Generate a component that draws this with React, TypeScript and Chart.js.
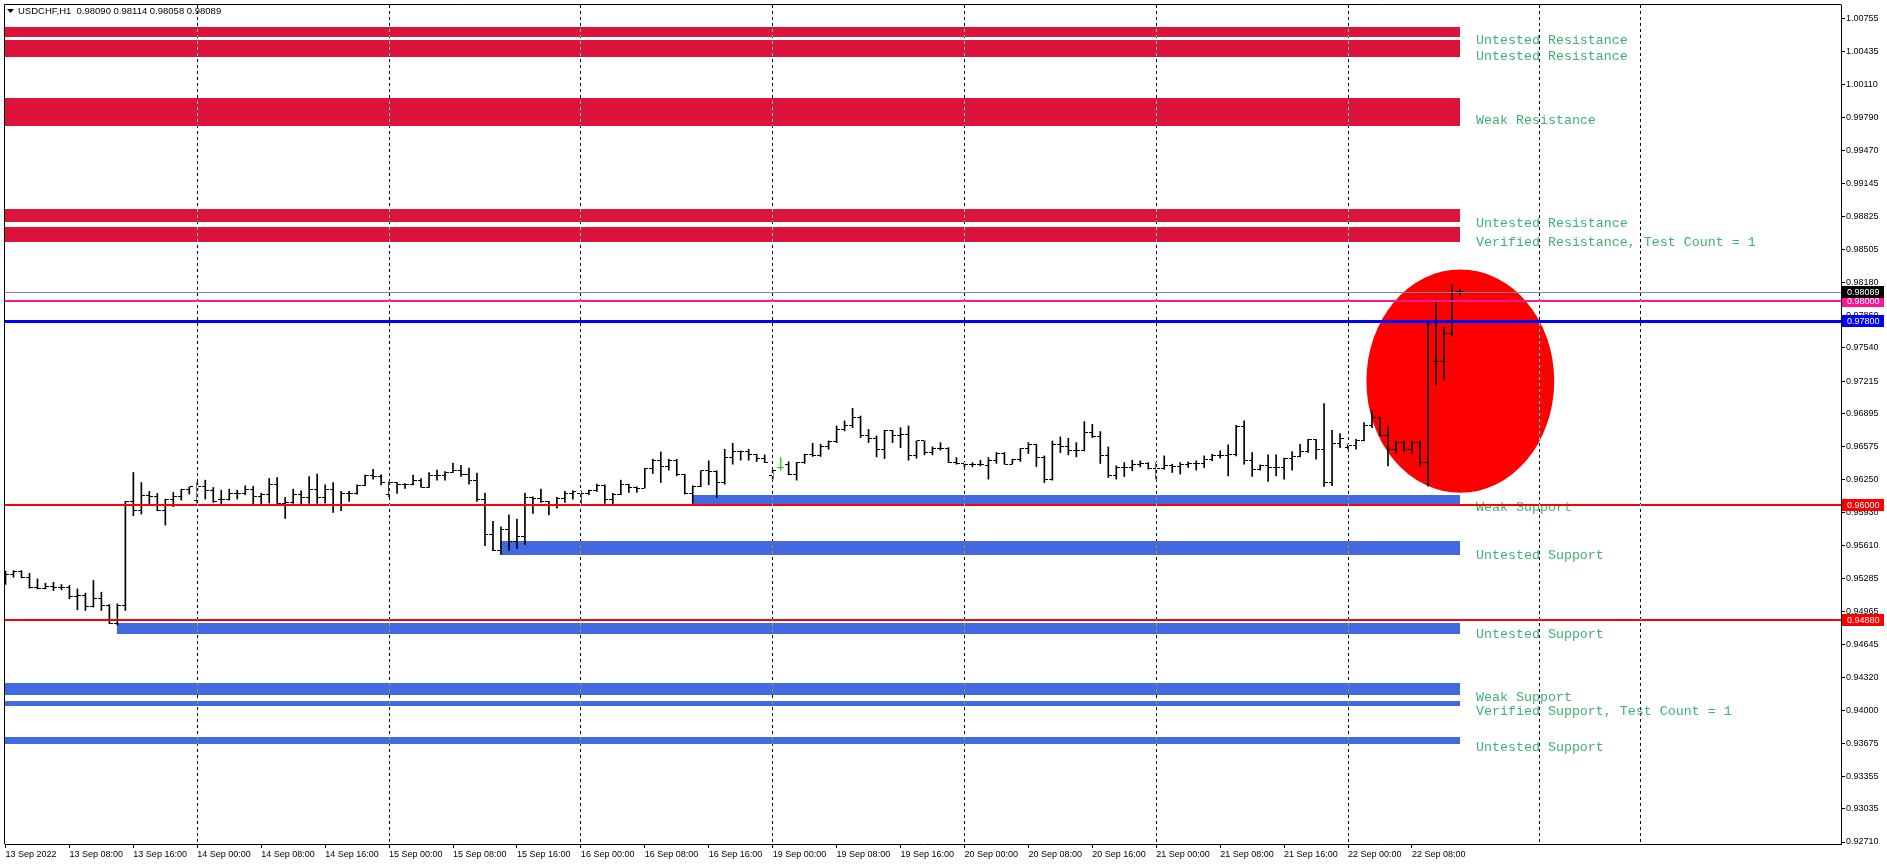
import React, { useEffect, useRef } from "react";
import { Chart, registerables } from "chart.js";

Chart.register(...registerables);

const titleText = "USDCHF,H1  0.98090 0.98114 0.98058 0.98089";

const xTickLabels = [
  "13 Sep 2022", "13 Sep 08:00", "13 Sep 16:00", "14 Sep 00:00", "14 Sep 08:00", "14 Sep 16:00",
  "15 Sep 00:00", "15 Sep 08:00", "15 Sep 16:00", "16 Sep 00:00", "16 Sep 08:00", "16 Sep 16:00",
  "19 Sep 00:00", "19 Sep 08:00", "19 Sep 16:00", "20 Sep 00:00", "20 Sep 08:00", "20 Sep 16:00",
  "21 Sep 00:00", "21 Sep 08:00", "21 Sep 16:00", "22 Sep 00:00", "22 Sep 08:00",
];
const barsPerXTick = 8;

const yTickValues = [
  1.00755, 1.00435, 1.0011, 0.9979, 0.9947, 0.99145, 0.98825, 0.98505, 0.9818, 0.9786,
  0.9754, 0.97215, 0.96895, 0.96575, 0.9625, 0.9593, 0.9561, 0.95285, 0.94965, 0.94645,
  0.9432, 0.94, 0.93675, 0.93355, 0.93035, 0.9271,
];

const barOpen = [
  0.95321, 0.95321, 0.95357, 0.95292, 0.95201, 0.95191, 0.95207, 0.95201, 0.95201, 0.9511,
  0.95119, 0.95012, 0.95087, 0.95022, 0.9485, 0.95022, 0.96039, 0.95955, 0.96094, 0.96088,
  0.95948, 0.96062, 0.96085, 0.96153, 0.96052, 0.96182, 0.96149, 0.96062, 0.96062, 0.9612,
  0.9612, 0.96159, 0.96088, 0.96111, 0.96201, 0.96023, 0.96029, 0.96111, 0.96078, 0.96153,
  0.96078, 0.96159, 0.96013, 0.9612, 0.9612, 0.96192, 0.96296, 0.96283, 0.96111, 0.96224,
  0.96201, 0.96201, 0.9624, 0.96175, 0.96289, 0.96289, 0.96322, 0.96338, 0.96299, 0.96247,
  0.96062, 0.95714, 0.95558, 0.9576, 0.9565, 0.957, 0.96078, 0.96072, 0.96039, 0.96013,
  0.96072, 0.96117, 0.96117, 0.96117, 0.96143, 0.96192, 0.96062, 0.96111, 0.96201, 0.96175,
  0.96169, 0.96361, 0.96436, 0.9638, 0.96436, 0.96306, 0.96117, 0.96185, 0.96338, 0.96332,
  0.96224, 0.96468, 0.96527, 0.96527, 0.96494, 0.96462, 0.96289, 0.9637, 0.96403, 0.96306,
  0.96419, 0.96494, 0.96484, 0.96575, 0.96624, 0.96744, 0.96783, 0.96864, 0.96679, 0.96657,
  0.96549, 0.96728, 0.96679, 0.96696, 0.96484, 0.9663, 0.96517, 0.96559, 0.96559, 0.96419,
  0.9641, 0.96396, 0.96403, 0.96387, 0.96436, 0.96507, 0.96403, 0.96445, 0.96556, 0.96592,
  0.96468, 0.96257, 0.96598, 0.96572, 0.9654, 0.9654, 0.96712, 0.9667, 0.96484, 0.96289,
  0.9637, 0.9637, 0.96403, 0.9641, 0.96364, 0.96364, 0.96393, 0.96377, 0.96396, 0.9641,
  0.9641, 0.96452, 0.96491, 0.96491, 0.96494, 0.96767, 0.96436, 0.96354, 0.96387, 0.9637,
  0.9637, 0.96458, 0.96474, 0.96527, 0.9664, 0.96543, 0.96224, 0.96608, 0.96565, 0.96582,
  0.96637, 0.96777, 0.96864, 0.96679, 0.96549, 0.96614, 0.96549, 0.96614, 0.96419, 0.97411,
  0.97411, 0.97683, 0.9809,
];

const barHigh = [
  0.95357, 0.95363, 0.95363, 0.95337, 0.95282, 0.9524, 0.95249, 0.95227, 0.95217, 0.95184,
  0.95142, 0.95266, 0.95152, 0.95032, 0.95038, 0.96039, 0.96322, 0.96224, 0.96137, 0.96117,
  0.96062, 0.96127, 0.96159, 0.96182, 0.96224, 0.96247, 0.96175, 0.96149, 0.96159, 0.96149,
  0.96192, 0.96188, 0.9612, 0.96263, 0.96273, 0.96078, 0.96159, 0.96143, 0.96283, 0.96306,
  0.96201, 0.96224, 0.96137, 0.96137, 0.96201, 0.96296, 0.96354, 0.96299, 0.96231, 0.96224,
  0.96214, 0.96296, 0.96263, 0.96322, 0.96345, 0.96332, 0.96413, 0.96393, 0.96364, 0.96315,
  0.9612, 0.95844, 0.9579, 0.95909, 0.95867, 0.9612, 0.96085, 0.96159, 0.96039, 0.96078,
  0.96137, 0.96143, 0.96143, 0.96149, 0.96208, 0.96201, 0.96117, 0.96247, 0.96208, 0.96182,
  0.96361, 0.96452, 0.96523, 0.96452, 0.96452, 0.96306, 0.96192, 0.96338, 0.96436, 0.96338,
  0.96549, 0.96608, 0.96533, 0.96549, 0.96501, 0.96494, 0.96345, 0.96468, 0.96426, 0.96419,
  0.96501, 0.96608, 0.96598, 0.9663, 0.96777, 0.96826, 0.96949, 0.96874, 0.96744, 0.96679,
  0.96735, 0.96735, 0.9676, 0.96777, 0.9663, 0.9663, 0.96572, 0.96614, 0.96565, 0.96468,
  0.96419, 0.96419, 0.96442, 0.96468, 0.96517, 0.96517, 0.96452, 0.96559, 0.96614, 0.96598,
  0.96484, 0.9663, 0.9667, 0.96657, 0.96614, 0.96819, 0.96793, 0.96722, 0.96572, 0.96387,
  0.96419, 0.96442, 0.96436, 0.96419, 0.96419, 0.96484, 0.96403, 0.96419, 0.96426, 0.96436,
  0.96484, 0.96501, 0.96533, 0.96592, 0.96783, 0.96826, 0.96517, 0.96396, 0.96494, 0.96494,
  0.96462, 0.96527, 0.96598, 0.96647, 0.96647, 0.96995, 0.96735, 0.96702, 0.96598, 0.96647,
  0.96809, 0.9693, 0.96864, 0.96777, 0.9663, 0.9663, 0.9663, 0.9663, 0.97791, 0.97989,
  0.97742, 0.98158, 0.98114,
];

const barLow = [
  0.95227, 0.95298, 0.95292, 0.95191, 0.95184, 0.95184, 0.95168, 0.95175, 0.95087, 0.9498,
  0.94973, 0.95006, 0.94973, 0.94843, 0.9483, 0.94973, 0.95899, 0.95916, 0.96013, 0.95948,
  0.95808, 0.95987, 0.96052, 0.96111, 0.9602, 0.96062, 0.96029, 0.96007, 0.96052, 0.96062,
  0.96104, 0.96007, 0.96013, 0.96023, 0.96013, 0.95873, 0.9602, 0.96007, 0.9602, 0.9602,
  0.96023, 0.95932, 0.95948, 0.96039, 0.96111, 0.96192, 0.96257, 0.96201, 0.96085, 0.96117,
  0.96166, 0.96201, 0.96175, 0.96175, 0.96247, 0.96247, 0.96322, 0.96283, 0.96208, 0.96039,
  0.95607, 0.95558, 0.9552, 0.9556, 0.9558, 0.9562, 0.95922, 0.96029, 0.95906, 0.95974,
  0.96029, 0.96062, 0.96013, 0.96104, 0.96137, 0.9602, 0.96007, 0.96104, 0.96127, 0.96127,
  0.96169, 0.96312, 0.96224, 0.96345, 0.96289, 0.96111, 0.9602, 0.96182, 0.96201, 0.96078,
  0.96208, 0.96403, 0.96442, 0.96442, 0.96429, 0.96419, 0.96257, 0.96345, 0.96299, 0.96247,
  0.9641, 0.96478, 0.96478, 0.96549, 0.96614, 0.96728, 0.9676, 0.96663, 0.96614, 0.96474,
  0.96458, 0.96614, 0.96565, 0.96442, 0.96462, 0.96494, 0.96494, 0.9654, 0.96419, 0.96403,
  0.96377, 0.96377, 0.96387, 0.96257, 0.9641, 0.96403, 0.96403, 0.96429, 0.96507, 0.9638,
  0.96224, 0.96247, 0.96517, 0.96494, 0.96474, 0.96533, 0.96663, 0.9641, 0.96273, 0.96257,
  0.96283, 0.96338, 0.96377, 0.96354, 0.96257, 0.96354, 0.96322, 0.96306, 0.9637, 0.96345,
  0.9637, 0.96436, 0.96462, 0.96289, 0.96484, 0.96403, 0.96283, 0.96345, 0.96234, 0.96289,
  0.96257, 0.96345, 0.96474, 0.96517, 0.96452, 0.96185, 0.96192, 0.96565, 0.96549, 0.96549,
  0.9663, 0.9676, 0.96679, 0.96387, 0.96507, 0.96527, 0.96507, 0.9638, 0.96188, 0.97173,
  0.97232, 0.97654, 0.98058,
];

const barClose = [
  0.95321, 0.95357, 0.95292, 0.95201, 0.95191, 0.95207, 0.95201, 0.95201, 0.9511, 0.95119,
  0.95012, 0.95087, 0.95022, 0.9485, 0.95022, 0.96039, 0.95955, 0.96094, 0.96088, 0.95948,
  0.96062, 0.96085, 0.96153, 0.96182, 0.96182, 0.96149, 0.96039, 0.96062, 0.9612, 0.9612,
  0.96159, 0.96088, 0.96104, 0.96201, 0.96023, 0.96029, 0.96111, 0.96078, 0.96153, 0.96078,
  0.96159, 0.96013, 0.9612, 0.9612, 0.96192, 0.96296, 0.96283, 0.96224, 0.96224, 0.96201,
  0.96201, 0.9624, 0.96175, 0.96289, 0.96289, 0.96322, 0.96338, 0.96299, 0.96247, 0.96062,
  0.95714, 0.95558, 0.9576, 0.9565, 0.957, 0.96078, 0.96072, 0.96039, 0.96013, 0.96072,
  0.96117, 0.96137, 0.96117, 0.96143, 0.96192, 0.96062, 0.96111, 0.96201, 0.96175, 0.96169,
  0.96361, 0.96436, 0.9638, 0.96436, 0.96306, 0.96117, 0.96185, 0.96338, 0.96332, 0.96224,
  0.96468, 0.96527, 0.96527, 0.96494, 0.96462, 0.96419, 0.96338, 0.9637, 0.96306, 0.96419,
  0.96494, 0.96484, 0.96575, 0.96624, 0.96744, 0.96783, 0.96864, 0.96679, 0.96657, 0.96549,
  0.96728, 0.96679, 0.96696, 0.96484, 0.9663, 0.96517, 0.96559, 0.96559, 0.96419, 0.9641,
  0.96396, 0.96403, 0.96396, 0.96436, 0.96507, 0.96403, 0.96445, 0.96556, 0.96592, 0.96468,
  0.96257, 0.96598, 0.96572, 0.9654, 0.9654, 0.96712, 0.9667, 0.96484, 0.96289, 0.9637,
  0.9637, 0.96403, 0.9641, 0.96364, 0.96364, 0.96393, 0.96377, 0.96396, 0.9641, 0.9641,
  0.96452, 0.96491, 0.96491, 0.96494, 0.96767, 0.96436, 0.96354, 0.96387, 0.9637, 0.9637,
  0.96458, 0.96474, 0.96527, 0.9664, 0.96543, 0.96224, 0.96608, 0.96657, 0.96582, 0.96637,
  0.96777, 0.96864, 0.96679, 0.96549, 0.96614, 0.96549, 0.96614, 0.96419, 0.97768, 0.97411,
  0.97683, 0.98083, 0.98089,
];

const highlightedBar = 97;

const separatorBars = [24, 48, 72, 96, 120, 144, 168, 192, 204.6];

const resistanceTop = [1.00677, 1.00553, 0.99985, 0.98902, 0.98717];
const resistanceBottom = [1.00577, 1.00382, 0.99705, 0.98766, 0.98574];
const supportStartBar = [86, 62, 14, -10, -10, -10];
const supportTop = [0.96104, 0.95655, 0.94855, 0.94267, 0.94091, 0.93739];
const supportBottom = [0.96003, 0.95514, 0.94748, 0.94149, 0.94044, 0.93669];
const zoneEndBar = 182;

const zoneLabelText = [
  "Untested Resistance", "Untested Resistance", "Weak Resistance", "Untested Resistance",
  "Verified Resistance, Test Count = 1", "Weak Support", "Untested Support", "Untested Support",
  "Weak Support", "Verified Support, Test Count = 1", "Untested Support",
];
const zoneLabelPrice = [
  1.0054, 1.00384, 0.9976, 0.98753, 0.98571, 0.95981, 0.95511, 0.94738, 0.94126, 0.93987, 0.93636,
];
const zoneLabelBar = 184;

const levelPrices = [0.9488, 0.96, 0.978, 0.98, 0.98089];

const circleLeftBar = 170.3;
const circleRightBar = 193.8;
const circleTopPrice = 0.98307;
const circleBottomPrice = 0.96123;

// ---- styles ----
const levelLineColors = ["#FF0000", "#FF0000", "#0000FF", "#FF1493", "#778899"];
const levelLabelColors = ["#FF0000", "#FF0000", "#0000FF", "#FF1493", "#000000"];
const levelLineWidths = [2, 2, 3, 2, 1];
const resistanceColor = "#DC143C";
const supportColor = "#4169E1";
const labelColor = "#3CB371";
const axisFont = "Liberation Sans";

function tickImage(side: "left" | "right", color: string): HTMLCanvasElement {
  const c = document.createElement("canvas");
  c.width = 7;
  c.height = 1;
  const g = c.getContext("2d")!;
  g.fillStyle = color;
  if (side === "left") g.fillRect(0, 0, 3, 1);
  else g.fillRect(4, 0, 3, 1);
  return c;
}

export default function App() {
  const canvasRef = useRef<HTMLCanvasElement | null>(null);

  useEffect(() => {
    document.body.style.margin = "0";
    document.body.style.overflow = "hidden";
    const canvas = canvasRef.current;
    if (!canvas) return;

    const barColors = barOpen.map((_, i) => (i === highlightedBar ? "#32CD32" : "#000000"));
    const openImgBlack = tickImage("left", "#000000");
    const closeImgBlack = tickImage("right", "#000000");
    const openImgGreen = tickImage("left", "#32CD32");
    const closeImgGreen = tickImage("right", "#32CD32");

    const overlay = {
      id: "mt4overlay",
      beforeDraw(chart: any) {
        const { ctx, width, height } = chart;
        ctx.save();
        ctx.fillStyle = "#FFFFFF";
        ctx.fillRect(0, 0, width, height);
        ctx.restore();
      },
      beforeDatasetsDraw(chart: any) {
        const { ctx, chartArea: a, scales } = chart;
        const xs = scales.x;
        const ys = scales.y;
        ctx.save();
        ctx.beginPath();
        ctx.rect(a.left, a.top, a.right - a.left, a.bottom - a.top);
        ctx.clip();
        const xEnd = Math.round(xs.getPixelForValue(zoneEndBar));
        ctx.fillStyle = resistanceColor;
        resistanceTop.forEach((t, i) => {
          const y1 = Math.round(ys.getPixelForValue(t));
          const y2 = Math.round(ys.getPixelForValue(resistanceBottom[i]));
          ctx.fillRect(a.left, y1, xEnd - a.left, y2 - y1);
        });
        ctx.fillStyle = supportColor;
        supportTop.forEach((t, i) => {
          const x1 = Math.max(a.left, Math.round(xs.getPixelForValue(supportStartBar[i])));
          const y1 = Math.round(ys.getPixelForValue(t));
          const y2 = Math.round(ys.getPixelForValue(supportBottom[i]));
          ctx.fillRect(x1, y1, xEnd - x1, y2 - y1);
        });
        const cxl = xs.getPixelForValue(circleLeftBar);
        const cxr = xs.getPixelForValue(circleRightBar);
        const cyt = ys.getPixelForValue(circleTopPrice);
        const cyb = ys.getPixelForValue(circleBottomPrice);
        ctx.fillStyle = "#FF0000";
        ctx.beginPath();
        ctx.ellipse((cxl + cxr) / 2, (cyt + cyb) / 2, (cxr - cxl) / 2, (cyb - cyt) / 2, 0, 0, Math.PI * 2);
        ctx.fill();
        ctx.restore();
        ctx.imageSmoothingEnabled = false;
      },
      afterDatasetsDraw(chart: any) {
        const { ctx, chartArea: a, scales } = chart;
        const xs = scales.x;
        const ys = scales.y;
        ctx.save();
        ctx.beginPath();
        ctx.rect(a.left, a.top, a.right - a.left, a.bottom - a.top);
        ctx.clip();
        // zone labels
        ctx.font = '13.33px "Liberation Mono", "DejaVu Sans Mono", monospace';
        ctx.fillStyle = labelColor;
        ctx.textBaseline = "middle";
        ctx.textAlign = "left";
        const lx = xs.getPixelForValue(zoneLabelBar);
        zoneLabelText.forEach((t, i) => {
          ctx.fillText(t, lx, ys.getPixelForValue(zoneLabelPrice[i]));
        });
        // horizontal levels
        levelPrices.forEach((p, i) => {
          const w = levelLineWidths[i];
          let y = Math.round(ys.getPixelForValue(p));
          if (w % 2 === 1) y += 0.5;
          ctx.strokeStyle = levelLineColors[i];
          ctx.lineWidth = w;
          ctx.beginPath();
          ctx.moveTo(a.left, y);
          ctx.lineTo(a.right, y);
          ctx.stroke();
        });
        // period separators
        ctx.globalCompositeOperation = "difference";
        ctx.strokeStyle = "#FFFFFF";
        ctx.lineWidth = 1;
        ctx.setLineDash([3, 3]);
        separatorBars.forEach((b) => {
          const x = Math.floor(xs.getPixelForValue(b)) + 0.5;
          ctx.beginPath();
          ctx.moveTo(x, a.top);
          ctx.lineTo(x, a.bottom);
          ctx.stroke();
        });
        ctx.restore();

        // frame (left, top)
        ctx.save();
        ctx.strokeStyle = "#000000";
        ctx.lineWidth = 1;
        ctx.beginPath();
        ctx.moveTo(a.left - 0.5, a.bottom);
        ctx.lineTo(a.left - 0.5, a.top - 0.5);
        ctx.lineTo(a.right + 0.5, a.top - 0.5);
        ctx.stroke();

        // price labels on axis
        ctx.font = `9px "${axisFont}"`;
        ctx.textBaseline = "middle";
        ctx.textAlign = "left";
        levelPrices.forEach((p, i) => {
          const y = Math.round(ys.getPixelForValue(p));
          ctx.fillStyle = levelLabelColors[i];
          ctx.fillRect(a.right + 1, y - 6, 42, 12);
          ctx.fillStyle = "#FFFFFF";
          ctx.fillText(p.toFixed(5), a.right + 6, y + 0.5);
        });

        // title
        ctx.fillStyle = "#000000";
        ctx.beginPath();
        ctx.moveTo(7, 9);
        ctx.lineTo(14, 9);
        ctx.lineTo(10.5, 13);
        ctx.closePath();
        ctx.fill();
        ctx.font = `9.5px "${axisFont}"`;
        ctx.fillText(titleText, 18, 11);
        ctx.restore();
      },
    };

    const chart = new Chart(canvas, {
      type: "bar",
      data: {
        datasets: [
          {
            type: "scatter",
            data: barOpen.map((v, i) => ({ x: i, y: v })),
            pointStyle: barOpen.map((_, i) => (i === highlightedBar ? openImgGreen : openImgBlack)) as any,
            pointRadius: 3,
            clip: 0,
          } as any,
          {
            type: "scatter",
            data: barClose.map((v, i) => ({ x: i, y: v })),
            pointStyle: barClose.map((_, i) => (i === highlightedBar ? closeImgGreen : closeImgBlack)) as any,
            pointRadius: 3,
            clip: 0,
          } as any,
          {
            type: "bar",
            data: barLow.map((l, i) => ({ x: i, y: [l, barHigh[i]] })) as any,
            backgroundColor: barColors,
            barThickness: 1,
            borderWidth: 0,
            clip: 0,
          } as any,
        ],
      },
      options: {
        animation: false,
        responsive: true,
        maintainAspectRatio: false,
        events: [],
        layout: { padding: { top: 3, left: 3, right: 0, bottom: 0 } },
        plugins: { legend: { display: false }, tooltip: { enabled: false }, title: { display: false } },
        scales: {
          x: {
            type: "linear",
            offset: false,
            min: -0.0625,
            max: 229.6875,
            afterBuildTicks: (s: any) => {
              s.ticks = xTickLabels.map((_, k) => ({ value: k * barsPerXTick }));
            },
            afterFit: (s: any) => {
              s.height = 22;
              s.paddingLeft = 0;
              s.paddingRight = 0;
            },
            ticks: {
              autoSkip: false,
              maxRotation: 0,
              minRotation: 0,
              align: "start",
              padding: 1,
              color: "#000000",
              font: { family: axisFont, size: 9 },
              callback: (_v: any, idx: number) => xTickLabels[idx],
            },
            grid: { offset: false, drawOnChartArea: false, drawTicks: true, tickLength: 4, color: "#000000" },
            border: { color: "#000000", width: 1 },
          },
          y: {
            type: "linear",
            position: "right",
            min: 0.926905,
            max: 1.008915,
            afterBuildTicks: (s: any) => {
              s.ticks = yTickValues.map((v) => ({ value: v }));
            },
            afterFit: (s: any) => {
              s.width = 46;
              s.paddingTop = 0;
              s.paddingBottom = 0;
            },
            ticks: {
              autoSkip: false,
              padding: 1,
              color: "#000000",
              font: { family: axisFont, size: 9 },
              callback: (v: any) => Number(v).toFixed(5),
            },
            grid: { drawOnChartArea: false, drawTicks: true, tickLength: 4, color: "#000000" },
            border: { color: "#000000", width: 1 },
          },
        },
      } as any,
      plugins: [overlay],
    });

    return () => chart.destroy();
  }, []);

  return (
    <div style={{ position: "relative", width: "1887px", height: "866px", background: "#FFFFFF" }}>
      <canvas ref={canvasRef} />
    </div>
  );
}
